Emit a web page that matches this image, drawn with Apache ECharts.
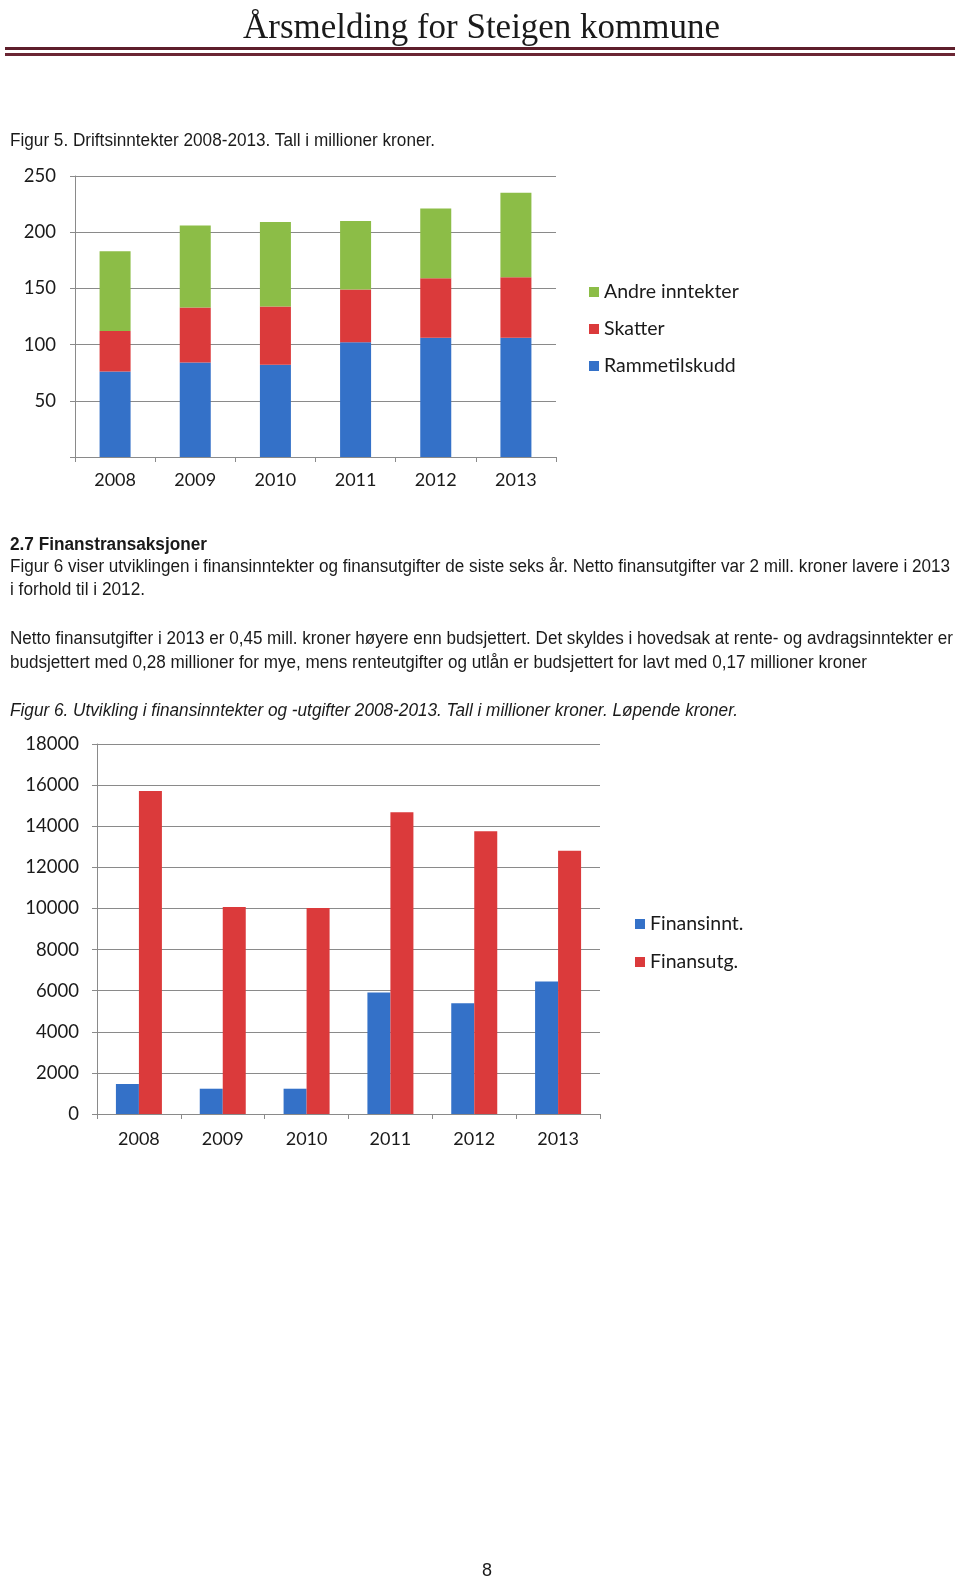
<!DOCTYPE html>
<html>
<head>
<meta charset="utf-8">
<script src="https://cdn.jsdelivr.net/npm/echarts@6/dist/echarts.min.js"></script>
<style>
  html, body { margin:0; padding:0; background:#fff; }
  #page { position:relative; width:960px; height:1585px; overflow:hidden; }
  #chart { position:absolute; left:0; top:0; width:960px; height:1585px; }
  .t { position:absolute; white-space:nowrap; color:#1a1a1a; font-family:"Liberation Sans Narrow","Arial Narrow","Liberation Sans",sans-serif; font-size:18px; line-height:22px; transform-origin:0 50%; }
  #title { position:absolute; left:243px; top:6px; white-space:nowrap; font-family:"Liberation Serif","DejaVu Serif",serif; font-size:35px; line-height:42px; color:#1a1a1a; transform-origin:0 50%; }
  .rule { position:absolute; left:5px; width:950px; background:#5e1e2b; }
</style>
</head>
<body>
<div id="page">
  <div id="chart"></div>
  <div id="title" data-w="477">Årsmelding for Steigen kommune</div>
  <div class="rule" style="top:47px;height:3px;"></div>
  <div class="rule" style="top:53px;height:3px;background:#6b2634;"></div>
  <div class="t" data-w="425" style="left:10px;top:129px;">Figur 5. Driftsinntekter 2008-2013. Tall i millioner kroner.</div>
  <div class="t" data-w="197" style="left:10px;top:533px;font-weight:bold;">2.7 Finanstransaksjoner</div>
  <div class="t" data-w="940" style="left:10px;top:555px;">Figur 6 viser utviklingen i finansinntekter og finansutgifter de siste seks år. Netto finansutgifter var 2 mill. kroner lavere i 2013</div>
  <div class="t" data-w="135" style="left:10px;top:578px;">i forhold til i 2012.</div>
  <div class="t" data-w="943" style="left:10px;top:627px;">Netto finansutgifter i 2013 er 0,45 mill. kroner høyere enn budsjettert. Det skyldes i hovedsak at rente- og avdragsinntekter er</div>
  <div class="t" data-w="857" style="left:10px;top:651px;">budsjettert med 0,28 millioner for mye, mens renteutgifter og utlån er budsjettert for lavt med 0,17 millioner kroner</div>
  <div class="t" data-w="728" style="left:10px;top:699px;font-style:italic;">Figur 6. Utvikling i finansinntekter og -utgifter 2008-2013. Tall i millioner kroner. Løpende kroner.</div>
  <div class="t" style="left:482px;top:1559px;">8</div>
</div>
<script>
// ---- Figur 5 data ----
const years = ['2008', '2009', '2010', '2011', '2012', '2013'];
const rammetilskudd = [76, 84, 82, 102, 106, 106];
const skatter = [36, 49, 52, 47, 53, 54];
const andreInntekter = [71, 73, 75, 61, 62, 75];
const fig5Legend = ['Andre inntekter', 'Skatter', 'Rammetilskudd'];

// ---- Figur 6 data ----
const finansinnt = [1460, 1230, 1230, 5910, 5390, 6440];
const finansutg = [15710, 10070, 10020, 14680, 13750, 12810];
const fig6Legend = ['Finansinnt.', 'Finansutg.'];

// fit scanned text lines to their measured widths
document.querySelectorAll('[data-w]').forEach(el => {
  const target = parseFloat(el.getAttribute('data-w'));
  const w = el.getBoundingClientRect().width;
  if (w > 0) el.style.transform = 'scaleX(' + (target / w) + ')';
});

const BLUE = '#3471c8', RED = '#db3a3b', GREEN = '#8cbd47';
const FONT = 'Lato';
const chart = echarts.init(document.getElementById('chart'), null, {renderer: 'canvas'});

function yAxisCommon(gridIndex, max, interval, hideZero, margin) {
  return {
    type: 'value', gridIndex, min: 0, max, interval,
    axisLine: {show: true, lineStyle: {color: '#8a8a8a', width: 1}},
    axisTick: {show: true, length: 5, lineStyle: {color: '#8a8a8a'}},
    splitLine: {show: true, lineStyle: {color: '#8a8a8a', width: 1}},
    axisLabel: {color: '#1a1a1a', fontFamily: FONT, fontSize: 18.5, margin,
      formatter: v => (hideZero && v === 0) ? '' : String(v)}
  };
}
function xAxisCommon(gridIndex, margin) {
  return {
    type: 'category', gridIndex, data: years,
    axisLine: {show: true, lineStyle: {color: '#8a8a8a', width: 1}},
    axisTick: {show: true, length: 5, alignWithLabel: false, lineStyle: {color: '#8a8a8a'}},
    axisLabel: {color: '#1a1a1a', fontFamily: FONT, fontSize: 18, margin}
  };
}

chart.setOption({
  animation: false,
  grid: [
    {left: 75, top: 176, width: 481, height: 281},
    {left: 97, top: 744, width: 503, height: 370}
  ],
  xAxis: [xAxisCommon(0, 14), xAxisCommon(1, 16)],
  yAxis: [yAxisCommon(0, 250, 50, true, 19), yAxisCommon(1, 18000, 2000, false, 18)],
  legend: [
    {data: fig5Legend, orient: 'vertical', left: 584, top: 277, itemWidth: 10, itemHeight: 10,
     itemGap: 17, icon: 'rect', selectedMode: false,
     textStyle: {fontFamily: FONT, fontSize: 19.5, color: '#1a1a1a', lineHeight: 20}},
    {data: fig6Legend, orient: 'vertical', left: 630, top: 909, itemWidth: 10, itemHeight: 10,
     itemGap: 18, icon: 'rect', selectedMode: false,
     textStyle: {fontFamily: FONT, fontSize: 19.5, color: '#1a1a1a', lineHeight: 20}}
  ],
  series: [
    {name: 'Rammetilskudd', type: 'bar', stack: 'drift', xAxisIndex: 0, yAxisIndex: 0, data: rammetilskudd, barWidth: 31, itemStyle: {color: BLUE}},
    {name: 'Skatter', type: 'bar', stack: 'drift', xAxisIndex: 0, yAxisIndex: 0, data: skatter, barWidth: 31, itemStyle: {color: RED}},
    {name: 'Andre inntekter', type: 'bar', stack: 'drift', xAxisIndex: 0, yAxisIndex: 0, data: andreInntekter, barWidth: 31, itemStyle: {color: GREEN}},
    {name: 'Finansinnt.', type: 'bar', xAxisIndex: 1, yAxisIndex: 1, data: finansinnt, barWidth: 23, barGap: '0%', itemStyle: {color: BLUE}},
    {name: 'Finansutg.', type: 'bar', xAxisIndex: 1, yAxisIndex: 1, data: finansutg, barWidth: 23, barGap: '0%', itemStyle: {color: RED}}
  ]
});
</script>
</body>
</html>
